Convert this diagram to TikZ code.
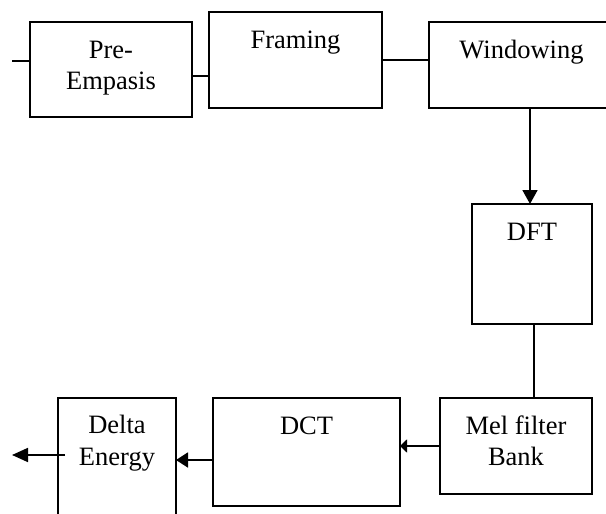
\documentclass[tikz,border=0pt]{standalone}
\usepackage{fontspec}
\setmainfont{Liberation Serif}
\usetikzlibrary{arrows.meta}
\begin{document}
\begin{tikzpicture}[x=1pt,y=-1pt,
  line width=1.8pt,
  block/.style={draw, line width=1.8pt, inner sep=0pt, outer sep=0pt, anchor=north west},
  lbl/.style={font=\fontsize{26.5}{31.5}\selectfont, align=center, anchor=base, inner sep=0pt},
  bigtip/.style={-{Triangle[length=14pt,width=15pt]}},
  smalltip/.style={-{Triangle[length=7pt,width=13pt]}},
  midtip/.style={-{Triangle[length=12pt,width=15pt]}},
  outtip/.style={-{Triangle[length=16pt,width=14pt]}}]
\useasboundingbox (0,0) rectangle (606,514);
\clip (0,0) rectangle (606,514);

% processing blocks
\node[block, minimum width=162pt, minimum height=95pt]  (pre) at (30,22)   {};
\node[block, minimum width=173pt, minimum height=96pt]  (frm) at (209,12)  {};
\node[block, minimum width=191pt, minimum height=86pt]  (win) at (429,22)  {};
\node[block, minimum width=120pt, minimum height=120pt] (dft) at (472,204) {};
\node[block, minimum width=152pt, minimum height=96pt]  (mel) at (440,398) {};
\node[block, minimum width=187pt, minimum height=108pt] (dct) at (213,398) {};
\node[block, minimum width=118pt, minimum height=132pt] (dlt) at (58,398)  {};

% block captions (anchor=base is the baseline of the last line)
\node[lbl] (preT) at ([yshift=-67.5pt]pre.north) {Pre-\\Empasis};
\node[lbl] (frmT) at ([yshift=-36pt]frm.north) {Framing};
\node[lbl] (winT) at ([xshift=-3pt,yshift=-36pt]win.north) {Windowing};
\node[lbl] (dftT) at ([yshift=-36pt]dft.north) {DFT};
\node[lbl] (melT) at ([yshift=-67.5pt]mel.north) {Mel filter\\Bank};
\node[lbl] (dctT) at ([yshift=-36pt]dct.north) {DCT};
\node[lbl] (dltT) at ([yshift=-67pt]dlt.north) {Delta\\Energy};

% signal in / out
\coordinate (in)  at (12,61);
\coordinate (out) at (12,455);

% connectors
\draw (in) -- (in -| pre.west);
\draw ([yshift=-6.5pt]pre.east) -- ([yshift=-6.5pt]pre.east -| frm.west);
\draw (frm.east) -- (frm.east -| win.west);
\draw[bigtip] ([xshift=-2pt]dft.north |- win.south) -- ([xshift=-2pt]dft.north);
\draw ([xshift=2pt]dft.south) -- ([xshift=2pt]dft.south |- mel.north);
\draw[smalltip] (mel.west) -- (mel.west -| dct.east);
\draw[midtip] ([yshift=-8pt]dct.west) -- ([yshift=-8pt]dct.west -| dlt.east);
\draw[outtip] ([xshift=7pt]out -| dlt.west) -- (out);
\end{tikzpicture}
\end{document}
